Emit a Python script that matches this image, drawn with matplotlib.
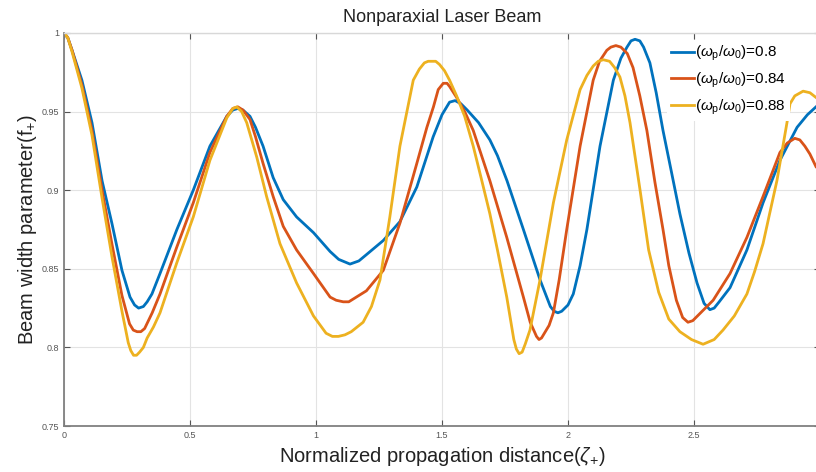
import numpy as np
import matplotlib
matplotlib.use('Agg')
import matplotlib.pyplot as plt

plt.rcParams['font.family'] = ['Liberation Sans', 'DejaVu Sans']
plt.rcParams['mathtext.fontset'] = 'custom'
plt.rcParams['mathtext.rm'] = 'Liberation Sans'
plt.rcParams['mathtext.it'] = 'Liberation Sans:italic'

# data
x_08 = [0.0, 0.015, 0.032, 0.071, 0.111, 0.151, 0.19, 0.23, 0.262, 0.28, 0.296, 0.315,
        0.33, 0.349, 0.381, 0.448, 0.513, 0.579, 0.646, 0.67, 0.69, 0.71, 0.738, 0.76,
        0.79, 0.83, 0.87, 0.923, 0.99, 1.056, 1.09, 1.135, 1.17, 1.2, 1.267, 1.333,
        1.4, 1.465, 1.5, 1.53, 1.552, 1.575, 1.6, 1.645, 1.69, 1.72, 1.758, 1.823,
        1.889, 1.93, 1.945, 1.96, 1.975, 2.0, 2.021, 2.048, 2.075, 2.127, 2.18, 2.21,
        2.234, 2.25, 2.266, 2.285, 2.3, 2.325, 2.35, 2.377, 2.41, 2.444, 2.48, 2.512,
        2.54, 2.563, 2.58, 2.6, 2.643, 2.71, 2.774, 2.841, 2.909, 2.95, 2.984]
y_08 = [1.0, 0.997, 0.989, 0.970, 0.943, 0.906, 0.879, 0.849, 0.832, 0.827, 0.825, 0.826,
        0.829, 0.834, 0.847, 0.875, 0.900, 0.928, 0.947, 0.951, 0.952, 0.951, 0.947, 0.940,
        0.928, 0.908, 0.894, 0.883, 0.873, 0.861, 0.856, 0.853, 0.855, 0.859, 0.868, 0.880,
        0.902, 0.934, 0.948, 0.956, 0.957, 0.955, 0.951, 0.943, 0.932, 0.922, 0.906, 0.875,
        0.843, 0.826, 0.823, 0.822, 0.823, 0.827, 0.834, 0.852, 0.875, 0.928, 0.970, 0.984,
        0.991, 0.995, 0.996, 0.995, 0.991, 0.981, 0.962, 0.938, 0.912, 0.885, 0.860, 0.841,
        0.828, 0.824, 0.825, 0.829, 0.838, 0.862, 0.892, 0.919, 0.940, 0.948, 0.953]

x_084 = [0.0, 0.015, 0.032, 0.071, 0.111, 0.151, 0.19, 0.23, 0.26, 0.275, 0.29, 0.305,
         0.32, 0.35, 0.381, 0.448, 0.513, 0.579, 0.646, 0.67, 0.69, 0.71, 0.738, 0.76,
         0.79, 0.83, 0.87, 0.923, 0.99, 1.056, 1.08, 1.108, 1.13, 1.15, 1.2, 1.267,
         1.333, 1.4, 1.44, 1.466, 1.485, 1.505, 1.52, 1.53, 1.558, 1.59, 1.624, 1.69,
         1.757, 1.823, 1.85, 1.875, 1.885, 1.895, 1.91, 1.925, 1.942, 1.965, 1.995, 2.048,
         2.1, 2.125, 2.154, 2.17, 2.19, 2.21, 2.235, 2.258, 2.285, 2.313, 2.345, 2.377,
         2.4, 2.43, 2.455, 2.476, 2.495, 2.52, 2.576, 2.643, 2.71, 2.774, 2.841, 2.87,
         2.9, 2.92, 2.94, 2.96, 2.984]
y_084 = [1.0, 0.997, 0.989, 0.967, 0.938, 0.900, 0.866, 0.833, 0.815, 0.811, 0.810, 0.810,
         0.812, 0.822, 0.834, 0.864, 0.892, 0.924, 0.947, 0.952, 0.953, 0.951, 0.945, 0.934,
         0.917, 0.896, 0.877, 0.862, 0.847, 0.832, 0.830, 0.829, 0.829, 0.831, 0.836, 0.849,
         0.879, 0.917, 0.940, 0.953, 0.964, 0.968, 0.968, 0.966, 0.959, 0.950, 0.938, 0.906,
         0.870, 0.832, 0.816, 0.807, 0.805, 0.806, 0.810, 0.814, 0.822, 0.843, 0.875, 0.928,
         0.970, 0.982, 0.989, 0.991, 0.992, 0.991, 0.987, 0.978, 0.960, 0.938, 0.905, 0.875,
         0.852, 0.830, 0.819, 0.816, 0.817, 0.821, 0.830, 0.847, 0.870, 0.896, 0.924, 0.930,
         0.933, 0.932, 0.928, 0.923, 0.915]

x_088 = [0.0, 0.015, 0.032, 0.071, 0.111, 0.151, 0.19, 0.23, 0.255, 0.265, 0.276, 0.288,
         0.3, 0.315, 0.33, 0.355, 0.381, 0.448, 0.513, 0.579, 0.646, 0.67, 0.686, 0.705,
         0.725, 0.765, 0.804, 0.857, 0.923, 0.99, 1.04, 1.065, 1.089, 1.115, 1.14, 1.187,
         1.22, 1.254, 1.293, 1.333, 1.386, 1.41, 1.43, 1.445, 1.46, 1.475, 1.49, 1.51,
         1.53, 1.558, 1.59, 1.624, 1.655, 1.69, 1.72, 1.757, 1.785, 1.795, 1.806, 1.818,
         1.83, 1.849, 1.889, 1.942, 1.995, 2.048, 2.075, 2.1, 2.12, 2.14, 2.165, 2.185,
         2.206, 2.226, 2.246, 2.286, 2.32, 2.36, 2.4, 2.444, 2.49, 2.536, 2.58, 2.615,
         2.66, 2.71, 2.74, 2.774, 2.8, 2.829, 2.869, 2.881, 2.9, 2.933, 2.96, 2.984]
y_088 = [1.0, 0.997, 0.988, 0.965, 0.935, 0.895, 0.858, 0.823, 0.803, 0.798, 0.795, 0.795,
         0.797, 0.800, 0.806, 0.813, 0.822, 0.854, 0.883, 0.919, 0.946, 0.952, 0.953, 0.950,
         0.943, 0.921, 0.896, 0.866, 0.841, 0.820, 0.809, 0.807, 0.807, 0.808, 0.810, 0.816,
         0.826, 0.843, 0.883, 0.928, 0.970, 0.977, 0.981, 0.982, 0.982, 0.982, 0.980, 0.976,
         0.970, 0.960, 0.947, 0.928, 0.908, 0.885, 0.862, 0.832, 0.805, 0.799, 0.796, 0.797,
         0.802, 0.811, 0.843, 0.892, 0.932, 0.964, 0.973, 0.979, 0.982, 0.983, 0.982, 0.978,
         0.972, 0.960, 0.943, 0.900, 0.862, 0.835, 0.818, 0.810, 0.805, 0.802, 0.805, 0.811,
         0.820, 0.834, 0.848, 0.866, 0.885, 0.906, 0.943, 0.955, 0.960, 0.963, 0.962, 0.959]

labels = [r'($\omega_{\rm p}$/$\omega_{\rm 0}$)=0.8',
          r'($\omega_{\rm p}$/$\omega_{\rm 0}$)=0.84',
          r'($\omega_{\rm p}$/$\omega_{\rm 0}$)=0.88']
colors = ['#0072BD', '#D95319', '#EDB120']

fig = plt.figure(figsize=(8.16, 4.72), dpi=100)
ax = fig.add_axes([64/816, 1 - 426/472, (820 - 64)/816, (426 - 33)/472])

for xs, ys, c, lab in zip([x_08, x_084, x_088], [y_08, y_084, y_088], colors, labels):
    ax.plot(xs, ys, color=c, lw=2.0, label=lab, solid_joinstyle='round')

ax.set_xlim(0, 3)
ax.set_ylim(0.75, 1)
ax.set_xticks([0, 0.5, 1, 1.5, 2, 2.5, 3])
ax.set_xticklabels(['0', '0.5', '1', '1.5', '2', '2.5', ''])
ax.set_yticks([0.75, 0.8, 0.85, 0.9, 0.95, 1])
ax.set_yticklabels(['0.75', '0.8', '0.85', '0.9', '0.95', '1'])
ax.grid(True, color='#e3e3e3', lw=0.8)
ax.tick_params(direction='in', length=4, width=0.8, labelsize=6.5, labelcolor='#555555',
               color='#555555', top=True, right=True)
for s in ['left', 'bottom']:
    ax.spines[s].set_color('#808080')
    ax.spines[s].set_linewidth(1.3)
for s in ['top', 'right']:
    ax.spines[s].set_color('#d8d8d8')
    ax.spines[s].set_linewidth(1.0)

ax.set_title('Nonparaxial Laser Beam', fontsize=13, pad=8, color='#222222')
ax.set_xlabel(r'Normalized propagation distance($\zeta_{+}$)', fontsize=14.5,
              color='#222222', labelpad=4)
ax.set_ylabel(r'Beam width parameter(f$_{+}$)', fontsize=14.5, color='#222222', labelpad=2)

leg = ax.legend(loc='lower right', bbox_to_anchor=(790/816, 1 - 121/472),
                bbox_transform=fig.transFigure, fontsize=11, frameon=True,
                fancybox=False, edgecolor='none', facecolor='white', framealpha=1,
                handlelength=1.5, handletextpad=0.1, labelspacing=0.5, borderpad=0.25,
                borderaxespad=0)

fig.savefig('out.png', dpi=100)
